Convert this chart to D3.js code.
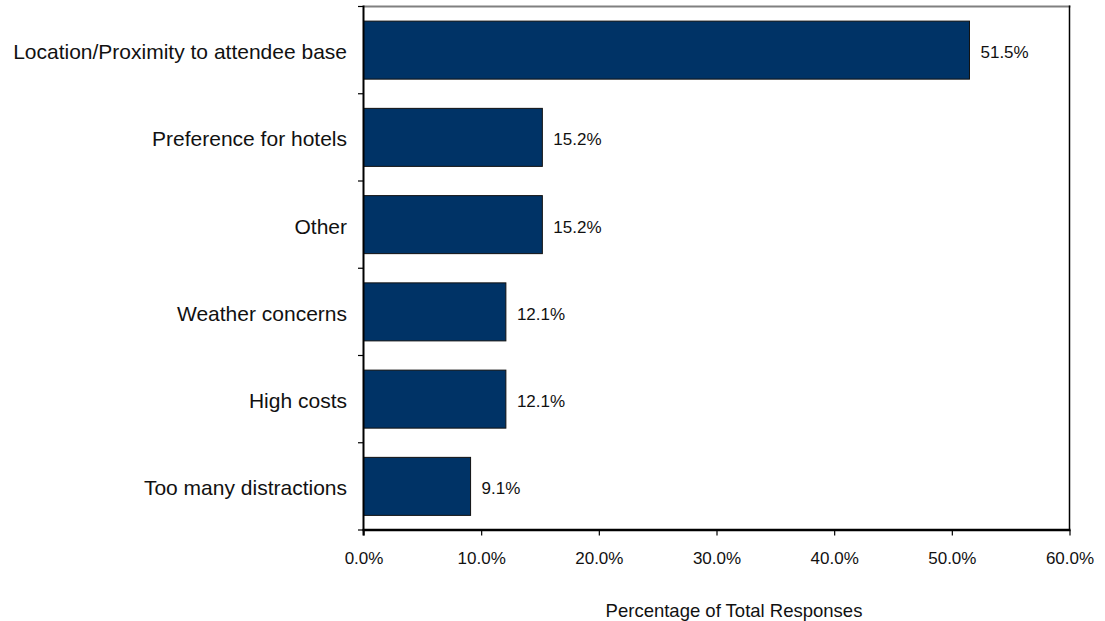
<!DOCTYPE html>
<html>
<head>
<meta charset="utf-8">
<script src="https://cdn.jsdelivr.net/npm/d3@7"></script>
<style>
  html, body { margin: 0; padding: 0; background: #fff; }
  svg { display: block; font-family: "Liberation Sans", Arial, Helvetica, sans-serif; }
</style>
</head>
<body>
<svg id="chart" width="1105" height="621"></svg>
<script>
// Reasons given, share of total responses
const categories = [
  "Location/Proximity to attendee base",
  "Preference for hotels",
  "Other",
  "Weather concerns",
  "High costs",
  "Too many distractions"
];
const shares = [0.515, 0.152, 0.152, 0.121, 0.121, 0.091];
const xTicks = [0, 0.1, 0.2, 0.3, 0.4, 0.5, 0.6];
const axisTitle = "Percentage of Total Responses";

const svg = d3.select("#chart");
const plotLeft = 363.5, plotRight = 1069.5, plotTop = 6.5, plotBottom = 530;

const x = d3.scaleLinear().domain([0, 0.6]).range([plotLeft, plotRight]);
const y = d3.scaleBand().domain(categories).range([plotTop, plotBottom])
  .paddingInner(0.335).paddingOuter(0.1675);
const pct = d3.format(".1%");

// Frame: grey top edge, dark right edge
svg.append("line").attr("x1", plotLeft).attr("x2", plotRight + 1).attr("y1", plotTop).attr("y2", plotTop)
  .attr("stroke", "#808080").attr("stroke-width", 2);
svg.append("line").attr("x1", plotRight).attr("x2", plotRight).attr("y1", plotTop - 1).attr("y2", plotBottom)
  .attr("stroke", "#000").attr("stroke-width", 1.5);

// Bars
svg.append("g").selectAll("rect").data(categories).join("rect")
  .attr("x", x(0))
  .attr("y", d => y(d))
  .attr("width", (d, i) => x(shares[i]) - x(0))
  .attr("height", y.bandwidth())
  .attr("fill", "#003366")
  .attr("stroke", "#111")
  .attr("stroke-width", 1);

// Value labels
svg.append("g").selectAll("text").data(categories).join("text")
  .attr("x", (d, i) => x(shares[i]) + 11)
  .attr("y", d => y(d) + y.bandwidth() / 2 + 8)
  .attr("font-size", 17)
  .attr("fill", "#111")
  .text((d, i) => pct(shares[i]));

// Category axis with ticks at band boundaries
const step = y.step();
const boundaries = categories.map(c => y(c) - (step - y.bandwidth()) / 2).concat([plotBottom]);
svg.append("g").selectAll("line").data(boundaries).join("line")
  .attr("x1", plotLeft - 5.5).attr("x2", plotLeft).attr("y1", d => d).attr("y2", d => d)
  .attr("stroke", "#000").attr("stroke-width", 1.2);
svg.append("g").selectAll("text").data(categories).join("text")
  .attr("x", 347)
  .attr("y", d => y(d) + y.bandwidth() / 2 + 9)
  .attr("text-anchor", "end")
  .attr("font-size", 21)
  .attr("fill", "#111")
  .text(d => d);
svg.append("line").attr("x1", plotLeft).attr("x2", plotLeft).attr("y1", plotTop - 1).attr("y2", plotBottom + 5.5)
  .attr("stroke", "#000").attr("stroke-width", 2);

// Value axis
const xAxis = svg.append("g").attr("transform", `translate(0,${plotBottom})`)
  .call(d3.axisBottom(x).tickValues(xTicks).tickFormat(pct).tickSize(5.5).tickPadding(16.5));
xAxis.select(".domain").remove();
xAxis.selectAll(".tick line").attr("stroke", "#000").attr("stroke-width", 1.2);
xAxis.selectAll(".tick text").attr("font-size", 17).attr("fill", "#111")
  .attr("font-family", "\"Liberation Sans\", Arial, sans-serif");
svg.append("line").attr("x1", plotLeft - 1).attr("x2", plotRight + 1).attr("y1", plotBottom).attr("y2", plotBottom)
  .attr("stroke", "#000").attr("stroke-width", 2.5);

svg.append("text")
  .attr("x", 734).attr("y", 617)
  .attr("text-anchor", "middle")
  .attr("font-size", 18.5)
  .attr("fill", "#111")
  .text(axisTitle);
</script>
</body>
</html>
